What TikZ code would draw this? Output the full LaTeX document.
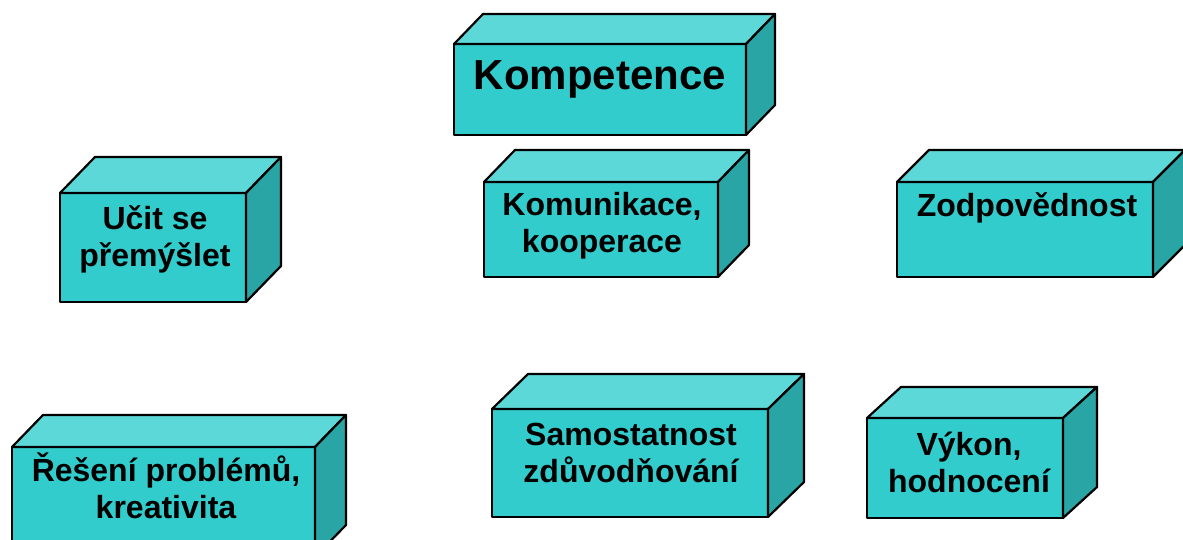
\documentclass[tikz,border=0pt]{standalone}
\usepackage{fontspec}
\setmainfont{Liberation Sans}
\definecolor{frontc}{HTML}{33CCCC}
\definecolor{topc}{HTML}{5DD8D8}
\definecolor{sidec}{HTML}{29A5A5}
\tikzset{
  face/.style={draw=black, line width=2.2pt, line join=round},
  frontface/.style={face, fill=frontc, rectangle, inner sep=0pt, outer sep=0pt},
  topface/.style={face, fill=topc},
  sideface/.style={face, fill=sidec},
  lbl/.style={font=\bfseries\fontsize{32}{37}\selectfont, align=center, inner sep=0pt},
  biglbl/.style={font=\bfseries\fontsize{42}{48}\selectfont, inner sep=0pt}
}
\newcommand\cuboid[7]{%
  \node[frontface, minimum width=#4pt, minimum height=#5pt, anchor=north west] (#1) at (#2,#3) {};
  \draw[topface] (#1.north west) -- ++(#6,#7) -- ([shift={(#6,#7)}]#1.north east) -- (#1.north east) -- cycle;
  \draw[sideface] (#1.north east) -- ++(#6,#7) -- ([shift={(#6,#7)}]#1.south east) -- (#1.south east) -- cycle;
}
\begin{document}
\begin{tikzpicture}[x=1pt,y=-1pt]
\useasboundingbox (0,0) rectangle (1183,539);
\clip (0,0) rectangle (1183,539);
\cuboid{kompetence}{454}{44}{292}{91}{29}{-30}
\node[biglbl, anchor=base] (tkompetence) at (600,89) {Kompetence};
\cuboid{ucit}{60}{193}{186}{109}{35}{-36}
\node[lbl, anchor=base] (tucit) at (155,266) {Učit se\\přemýšlet};
\cuboid{komunikace}{484}{182}{234}{95}{31}{-32}
\node[lbl, anchor=base] (tkomunikace) at (602,252) {Komunikace,\\kooperace};
\cuboid{zodp}{897}{182}{256}{95}{32}{-32}
\node[lbl, anchor=base] (tzodp) at (1027,216) {Zodpovědnost};
\cuboid{reseni}{12}{447}{303}{110}{31}{-32}
\node[lbl, anchor=base] (treseni) at (166,518) {Řešení problémů,\\kreativita};
\cuboid{samost}{492}{409}{276}{108}{36}{-35}
\node[lbl, anchor=base] (tsamost) at (631,482) {Samostatnost\\zdůvodňování};
\cuboid{vykon}{867}{418}{196}{100}{34}{-31}
\node[lbl, anchor=base] (tvykon) at (969,492) {Výkon,\\hodnocení};
\end{tikzpicture}
\end{document}
